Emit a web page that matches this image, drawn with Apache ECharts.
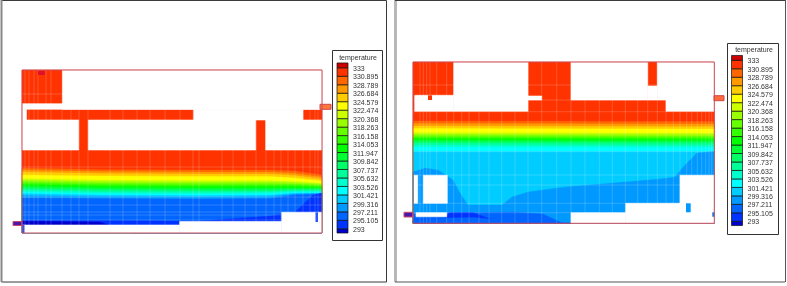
<!DOCTYPE html>
<html>
<head>
<meta charset="utf-8">
<title>Temperature field</title>
<style>html,body{margin:0;padding:0;background:#fff}#c{width:787px;height:286px}</style>
<script src="https://cdn.jsdelivr.net/npm/echarts@6/dist/echarts.min.js"></script>
</head>
<body>
<div id="c"></div>
<script>
// Contour levels in K, coolest first, and the 21 colour bands they separate.
const levels = [293, 295.105, 297.211, 299.316, 301.421, 303.526, 305.632, 307.737, 309.842, 311.947,
  314.053, 316.158, 318.263, 320.368, 322.474, 324.579, 326.684, 328.789, 330.895, 333];
const bandColors = ['#0000cc', '#0033ff', '#0066ff', '#0099ff', '#00ccff', '#00ffff', '#00ffcc', '#00ff99',
  '#00ff66', '#00ff33', '#00ff00', '#33ff00', '#66ff00', '#99ff00', '#ccff00', '#ffff00', '#ffcc00', '#ff9900', '#ff6600', '#ff3300', '#cc0000'];

// Contours of the left room: [band index, [x, depth], ...], drawn warmest first.
const leftContours = [
  [19, [0, 0], [300, 0]],
  [18, [0, 98], [78, 99.5], [178, 100], [248, 100], [273, 101], [300, 105]],
  [17, [0, 100], [78, 101.5], [178, 102], [248, 102], [273, 103.5], [300, 107]],
  [16, [0, 102], [78, 103.5], [178, 104], [248, 104], [273, 105.5], [300, 109]],
  [15, [0, 105], [78, 106], [178, 106.5], [248, 106.5], [273, 108], [300, 111]],
  [14, [0, 108.5], [78, 110], [178, 110.5], [248, 110.5], [273, 111.5], [300, 113]],
  [13, [0, 110], [78, 111.5], [178, 112], [248, 112], [273, 112.5], [300, 114]],
  [12, [0, 111.5], [78, 113], [178, 113.5], [248, 113.5], [273, 114], [300, 115]],
  [11, [0, 113], [78, 114.5], [178, 115], [248, 115], [273, 115], [300, 116]],
  [10, [0, 114.5], [78, 116], [178, 116.5], [248, 116.5], [273, 116.5], [300, 117]],
  [9, [0, 116], [78, 117.5], [178, 118], [248, 118], [273, 118], [300, 118]],
  [8, [0, 117.5], [78, 119], [178, 119.5], [248, 119.5], [273, 119], [300, 119]],
  [7, [0, 119], [78, 120.5], [178, 121], [248, 121], [273, 120], [300, 120]],
  [6, [0, 120.5], [78, 122], [178, 122.5], [248, 122], [273, 121], [300, 121]],
  [5, [0, 122], [78, 123.5], [178, 124], [248, 123.5], [273, 122], [300, 122]],
  [4, [0, 123.5], [78, 125], [178, 125.5], [248, 125], [273, 123], [300, 123]],
  [3, [0, 125.5], [78, 126.5], [178, 127], [248, 126.5], [273, 124], [300, 123.5]],
  [2, [0, 128], [78, 128.5], [178, 129], [248, 128.5], [273, 125], [300, 124]],
  [1, [0, 150.5], [78, 150.5], [178, 151], [248, 146], [273, 142], [291, 125], [300, 123]],
  [0, [0, 151], [78, 152], [110, 163], [300, 163]]
];

// Contours of the right room.
const rightContours = [
  [19, [0, 0], [301.3, 0]],
  [18, [0, 59], [301.3, 59.5]],
  [17, [0, 61.5], [301.3, 62]],
  [16, [0, 64], [301.3, 64.5]],
  [15, [0, 66.5], [301.3, 67]],
  [14, [0, 70.5], [301.3, 71]],
  [13, [0, 72], [301.3, 72.5]],
  [12, [0, 73.5], [301.3, 74]],
  [11, [0, 75], [301.3, 75.5]],
  [10, [0, 76.5], [301.3, 77]],
  [9, [0, 78], [301.3, 78.5]],
  [8, [0, 79.5], [301.3, 80]],
  [7, [0, 81], [301.3, 81.5]],
  [6, [0, 83], [301.3, 83.5]],
  [5, [0, 85], [301.3, 85.5]],
  [4, [0, 89.5], [301.3, 89.5]],
  [3, [0, 110], [12, 106], [25, 108], [40, 118], [47, 131], [55, 143], [89, 143], [99, 135], [115, 130],
    [152, 125], [200, 121], [247, 117], [262, 115], [270, 105], [284, 91], [300, 89.5], [301.3, 89.5]],
  [2, [0, 152], [57, 150.5], [100, 150], [130, 152], [150, 161.3], [301.3, 161.3]],
  [1, [0, 158], [32, 156], [36, 150.5], [60, 150.5], [72, 155], [90, 161.3], [301.3, 161.3]],
  [2, [0, 158], [32, 156], [60, 155.5], [90, 158], [120, 161.3], [301.3, 161.3]]
];

// Solid regions cut out of each room: [x0, y0, x1, y1].
const leftHoles = [
  [40.5, 0, 300, 39.3], [0, 33.7, 300, 39.3], [0, 39.3, 4.5, 50], [171.7, 39.3, 281, 50],
  [0, 50, 56.7, 80], [66.3, 50, 233.7, 80], [243.7, 50, 300, 80],
  [0, 155, 157.7, 163], [157.7, 151.5, 259.7, 163], [259.7, 142.3, 300, 163]
];
const rightHoles = [
  [40.7, 0, 115, 49.3], [1.7, 33.3, 40.7, 49.3], [158, 0, 234.7, 38], [234.7, 24, 244.3, 38],
  [244.3, 0, 301.3, 38], [253, 38, 301.3, 49.3], [115, 34, 128.7, 38],
  [10.3, 113.3, 34.3, 141.3], [1, 113.3, 4.7, 141.3], [3, 150.7, 33.7, 154.7],
  [267, 113.3, 301.3, 161.3], [212.7, 141.3, 267, 161.3], [158, 150.7, 212.7, 161.3]
];

// Small solid-colour parts: [x0, y0, x1, y1, fill colour, edge colour].
const leftParts = [
  [16, 1, 23, 5, '#e0102a', 'none'],
  [293.5, 142.3, 296, 152, '#2a55ff', 'none'],
  [0, 155, 2.5, 163, '#3a50e8', 'none'],
  [-9, 151.5, 0, 155.5, '#4a18a8', '#c84a6a'],
  [298, 34.3, 309, 39.3, '#ff7a3a', '#d04848']
];
const rightParts = [
  [15, 33.3, 19, 38, '#ff3300', 'none'],
  [273, 141.3, 277.7, 150.3, '#0099ff', 'none'],
  [299.3, 150.3, 301.3, 154.7, '#1070e0', 'none'],
  [-9, 150.3, 0, 155, '#4a18a8', '#c84a6a'],
  [301, 33.7, 311, 38.7, '#ff6a3a', '#d04848']
];

// Computational mesh lines in each room.
const leftMeshX = [3, 7, 12, 16, 24, 29, 40, 49, 57, 66, 88, 101, 115, 128, 143, 158, 171, 177, 200, 211, 223, 234, 244, 252, 259, 266, 273, 281, 288, 293, 296];
const leftMeshY = [24, 97, 127, 135, 142, 145, 150];
const rightMeshX = [7, 10.3, 13.7, 17, 23.7, 33.7, 40.7, 48.7, 56, 66, 76, 88.7, 102, 115, 128.7, 143.7, 158, 172, 186.3, 199.3, 212.3, 224.7, 234.7, 244.3, 253, 260.3, 267, 273.7, 278.7, 284.3, 288.7, 292.7, 296, 298.7];
const rightMeshY = [23, 38, 49.7, 89.7, 113, 123, 141.3, 150.7];

const legendLabels = ['333', '330.895', '328.789', '326.684', '324.579', '322.474', '320.368', '318.263', '316.158', '314.053', '311.947',
  '309.842', '307.737', '305.632', '303.526', '301.421', '299.316', '297.211', '295.105', '293'];

const roomSize = { left: [300, 163], right: [301.3, 161.3] };

const chart = echarts.init(document.getElementById('c'), null, { renderer: 'canvas' });

function contourSeries(axis, contours, bottom) {
  return {
    type: 'custom', xAxisIndex: axis, yAxisIndex: axis, silent: true, z: 2,
    data: contours.map(c => [c[0]]),
    renderItem(params, api) {
      const c = contours[params.dataIndex];
      const pts = c.slice(1);
      const outline = pts.concat([[pts[pts.length - 1][0], bottom], [pts[0][0], bottom]]);
      return {
        type: 'polygon',
        shape: { points: outline.map(p => api.coord(p)) },
        style: { fill: bandColors[c[0]], stroke: bandColors[c[0]], lineWidth: 0.3 }
      };
    }
  };
}

function meshSeries(axis, xs, ys, size) {
  const lines = xs.map(x => [x, 0, x, size[1]]).concat(ys.map(y => [0, y, size[0], y]));
  return {
    type: 'custom', xAxisIndex: axis, yAxisIndex: axis, silent: true, z: 3,
    data: lines.map(l => [l[0], l[1]]),
    renderItem(params, api) {
      const l = lines[params.dataIndex];
      const a = api.coord([l[0], l[1]]), b = api.coord([l[2], l[3]]);
      return {
        type: 'line',
        shape: { x1: a[0], y1: a[1], x2: b[0], y2: b[1] },
        style: { stroke: 'rgba(255,255,255,0.18)', lineWidth: 1 }
      };
    }
  };
}

function rectSeries(axis, rects, z, fill) {
  return {
    type: 'custom', xAxisIndex: axis, yAxisIndex: axis, silent: true, z: z,
    data: rects.map(r => [r[0], r[1]]),
    renderItem(params, api) {
      const r = rects[params.dataIndex];
      const a = api.coord([r[0], r[1]]), b = api.coord([r[2], r[3]]);
      return {
        type: 'rect',
        shape: { x: a[0], y: a[1], width: b[0] - a[0], height: b[1] - a[1] },
        style: { fill: fill || r[4], stroke: fill || r[5], lineWidth: fill ? 0.6 : 1 }
      };
    }
  };
}

function outlineSeries(axis, size) {
  return rectSeries(axis, [[0, 0, size[0], size[1], 'none', '#cc4a56']], 6);
}

// Key swatches: bands run between the level labels, with a short cap at each end.
const keyOffset = 0.3, keyCapTop = 1.5, keyCapBottom = 0.75;
function legendSeries(axis) {
  const bounds = bandColors.map((c, i) => [
    i === 0 ? levels[0] - keyCapBottom : levels[i - 1] + keyOffset,
    i === 20 ? levels[19] + keyCapTop : levels[i] + keyOffset
  ]);
  return {
    type: 'custom', xAxisIndex: axis, yAxisIndex: axis, silent: true, z: 8,
    data: bounds.map(b => [0, b[0]]),
    renderItem(params, api) {
      const i = params.dataIndex;
      const a = api.coord([0, bounds[i][1]]), b = api.coord([1, bounds[i][0]]);
      return {
        type: 'rect',
        shape: { x: a[0], y: a[1], width: b[0] - a[0], height: b[1] - a[1] },
        style: { fill: bandColors[i], stroke: '#101010', lineWidth: 0.7 }
      };
    }
  };
}

// Grid rectangles: the two rooms, then the two colour keys.
const grids = [
  { left: 22, top: 70, width: 300, height: 163 },
  { left: 413, top: 62, width: 301.3, height: 161.3 },
  { left: 337, top: 69, width: 11, height: 161 },
  { left: 731.5, top: 61.5, width: 11, height: 161 }
];

const legendValues = legendLabels.map(Number);
const legendY = {
  type: 'value', min: 293, max: 333, position: 'right',
  axisLine: { show: false }, axisTick: { show: false }, splitLine: { show: false },
  axisLabel: {
    customValues: legendValues, margin: 5, fontFamily: 'Liberation Sans', fontSize: 7, color: '#333',
    formatter: v => legendLabels[legendValues.indexOf(v)]
  }
};
const hidden = (min, max, inverse) => ({ type: 'value', min, max, inverse, show: false });

// Panel frames and key boxes.
const frame = (x, y, w, h, stroke, width) => ({
  type: 'rect', shape: { x, y, width: w, height: h },
  style: { fill: 'none', stroke, lineWidth: width }, silent: true
});

chart.setOption({
  animation: false,
  backgroundColor: '#fff',
  grid: grids,
  xAxis: [hidden(0, 300), hidden(0, 301.3), hidden(0, 1), hidden(0, 1)].map((a, i) => ({ ...a, gridIndex: i })),
  yAxis: [hidden(0, 163, true), hidden(0, 161.3, true), legendY, legendY].map((a, i) => ({ ...a, gridIndex: i })),
  graphic: [
    frame(1.5, 0.5, 385, 281.5, '#3a3a3a', 1),
    { type: 'line', shape: { x1: 1.5, y1: 0, x2: 1.5, y2: 282 }, style: { stroke: '#888', lineWidth: 2 }, silent: true },
    { type: 'line', shape: { x1: 395.5, y1: 0, x2: 395.5, y2: 282 }, style: { stroke: '#b8b8b8', lineWidth: 3 }, silent: true },
    { type: 'line', shape: { x1: 395, y1: 0.5, x2: 785, y2: 0.5 }, style: { stroke: '#3a3a3a', lineWidth: 1 }, silent: true },
    { type: 'line', shape: { x1: 785.5, y1: 0, x2: 785.5, y2: 282 }, style: { stroke: '#555', lineWidth: 1 }, silent: true },
    { type: 'line', shape: { x1: 395, y1: 282, x2: 785, y2: 282 }, style: { stroke: '#555', lineWidth: 1 }, silent: true },
    frame(332.5, 50.5, 50, 190, '#333', 1),
    frame(727.5, 43.5, 51, 191, '#333', 1),
    { type: 'text', x: 358, y: 58.5, silent: true, style: { text: 'temperature', fontFamily: 'Liberation Sans', fontSize: 7, fill: '#333', align: 'center', verticalAlign: 'middle' } },
    { type: 'text', x: 754, y: 50.5, silent: true, style: { text: 'temperature', fontFamily: 'Liberation Sans', fontSize: 7, fill: '#333', align: 'center', verticalAlign: 'middle' } }
  ],
  series: [
    contourSeries(0, leftContours, roomSize.left[1]),
    meshSeries(0, leftMeshX, leftMeshY, roomSize.left),
    rectSeries(0, leftHoles, 4, '#fff'),
    rectSeries(0, leftParts, 5),
    outlineSeries(0, roomSize.left),
    contourSeries(1, rightContours, roomSize.right[1]),
    meshSeries(1, rightMeshX, rightMeshY, roomSize.right),
    rectSeries(1, rightHoles, 4, '#fff'),
    rectSeries(1, rightParts, 5),
    outlineSeries(1, roomSize.right),
    legendSeries(2),
    legendSeries(3)
  ]
});
</script>
</body>
</html>
